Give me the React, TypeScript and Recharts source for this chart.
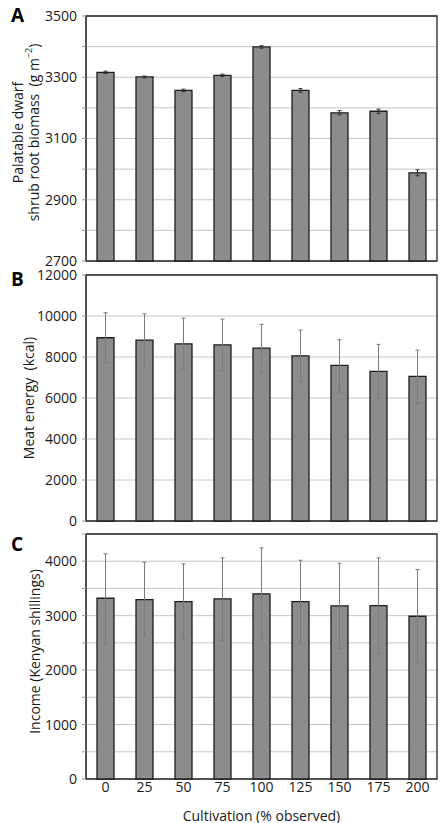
import React from "react";
import {
  BarChart, Bar, XAxis, YAxis, CartesianGrid, ErrorBar, ReferenceArea,
} from "recharts";

const CATEGORIES = ["0", "25", "50", "75", "100", "125", "150", "175", "200"];
const EDGE_TICKS = [0, 1, 2, 3, 4, 5, 6, 7, 8, 9];

// panel A: palatable dwarf shrub root biomass (g m-2)
const ROOT_BIOMASS = [3316, 3301, 3257, 3306, 3399, 3257, 3184, 3189, 2988];
const ROOT_BIOMASS_ERR = [4, 3, 4, 4, 4, 6, 7, 7, 10];
const ROOT_TICKS = [2700, 2800, 2900, 3000, 3100, 3200, 3300, 3400, 3500];

// panel B: meat energy (kcal), [lower, upper]
const MEAT_ENERGY = [8938, 8825, 8645, 8596, 8435, 8059, 7590, 7297, 7053];
const MEAT_ENERGY_ERR = [
  [1202, 1221], [1284, 1285], [1221, 1255], [1270, 1255], [1207, 1157],
  [1270, 1255], [1304, 1250], [1319, 1318], [1319, 1284],
];
const MEAT_TICKS = [0, 2000, 4000, 6000, 8000, 10000, 12000];

// panel C: income (Kenyan shillings), [lower, upper]
const INCOME = [3320, 3296, 3259, 3309, 3401, 3259, 3180, 3186, 2989];
const INCOME_ERR = [
  [838, 816], [680, 686], [698, 693], [761, 753], [846, 845],
  [777, 759], [779, 783], [888, 876], [857, 858],
];
const INCOME_TICKS = [0, 500, 1000, 1500, 2000, 2500, 3000, 3500, 4000, 4500];

const FONT = "'Open Sans', 'Noto Sans', sans-serif";
const TEXT = "#1a1a1a";
const FS = 14;

const toRows = (values: number[], errs: (number | number[])[]) =>
  CATEGORIES.map((c, i) => ({ cat: c, value: values[i], err: errs[i] }));

function YLabel({ viewBox, lines, xs, shift }: any) {
  const cy = viewBox.y + viewBox.height / 2 + (shift ?? 0);
  return (
    <g>
      {lines.map((line: React.ReactNode, i: number) => (
        <text
          key={i}
          x={xs[i]}
          y={cy}
          transform={`rotate(-90 ${xs[i]} ${cy})`}
          textAnchor="middle"
          dominantBaseline="central"
          fontSize={FS}
          fontFamily={FONT}
          fill={TEXT}
        >
          {line}
        </text>
      ))}
    </g>
  );
}

type PanelProps = {
  letter: string;
  letterTop: number;
  top: number;
  height: number;
  margin: { top: number; right: number; left: number; bottom: number };
  rows: { cat: string; value: number; err: number | number[] }[];
  domain: [number, number];
  ticks: number[];
  showTick: (v: number) => boolean;
  labelLines: React.ReactNode[];
  labelXs: number[];
  labelShift?: number;
  errColor: string;
  showCategories?: boolean;
};

function Panel(p: PanelProps) {
  return (
    <div style={{ position: "absolute", left: 0, top: p.top }}>
      <BarChart width={443} height={p.height} data={p.rows} margin={p.margin} barSize={17}>
        <CartesianGrid horizontal vertical={false} stroke="#c6c6c6" />
        <XAxis
          dataKey="cat"
          hide={!p.showCategories}
          axisLine={false}
          tickLine={false}
          tickSize={0}
          tickMargin={3}
          height={44}
          tick={{ fontSize: FS, fill: TEXT, fontFamily: FONT }}
          label={(props: any) => {
            const vb = props.viewBox;
            return (
              <text
                x={vb.x + vb.width / 2}
                y={vb.y + 36}
                textAnchor="middle"
                dominantBaseline="central"
                fontSize={FS}
                fontFamily={FONT}
                fill={TEXT}
              >
                Cultivation (% observed)
              </text>
            );
          }}
        />
        <XAxis
          xAxisId="edge"
          type="number"
          domain={[0, 9]}
          ticks={EDGE_TICKS}
          interval={0}
          height={0}
          tickSize={4}
          tickFormatter={() => ""}
          axisLine={{ stroke: "#444", strokeWidth: 1.3 }}
          tickLine={{ stroke: "#999" }}
        />
        <YAxis
          domain={p.domain}
          ticks={p.ticks}
          interval={0}
          width={86}
          tickSize={4}
          tickMargin={5}
          axisLine={{ stroke: "#444", strokeWidth: 1.3 }}
          tickLine={{ stroke: "#999" }}
          tickFormatter={(v: number) => (p.showTick(v) ? String(v) : "")}
          tick={{ fontSize: FS, fill: TEXT, fontFamily: FONT }}
          label={(props: any) => (
            <YLabel viewBox={props.viewBox} lines={p.labelLines} xs={p.labelXs} shift={p.labelShift} />
          )}
        />
        <Bar dataKey="value" fill="#8c8c8c" stroke="#1e1e1e" strokeWidth={1.3} isAnimationActive={false}>
          <ErrorBar dataKey="err" width={2} stroke={p.errColor} strokeWidth={1} />
        </Bar>
        <ReferenceArea y1={p.domain[0]} y2={p.domain[1]} fill="none" stroke="#222" strokeWidth={1.3} fillOpacity={0} />
      </BarChart>
      <div
        style={{
          position: "absolute",
          left: 11,
          top: p.letterTop,
          fontFamily: FONT,
          fontWeight: 700,
          fontSize: 19,
          color: "#000",
          lineHeight: "20px",
        }}
      >
        {p.letter}
      </div>
    </div>
  );
}

export default function App() {
  return (
    <div style={{ position: "absolute", left: 0, top: 0, width: 443, height: 823, background: "#fff" }}>
      <Panel
        letter="A"
        letterTop={5}
        top={0}
        height={275}
        margin={{ top: 16, right: 6, left: 0, bottom: 14 }}
        rows={toRows(ROOT_BIOMASS, ROOT_BIOMASS_ERR)}
        domain={[2700, 3500]}
        ticks={ROOT_TICKS}
        showTick={(v) => (v - 2700) % 200 === 0}
        labelLines={[
          "Palatable dwarf",
          <>
            shrub root biomass{"\u00a0\u00a0"}(g m
            <tspan dy={-5} fontSize={9}>−2</tspan>
            <tspan dy={5}>)</tspan>
          </>,
        ]}
        labelXs={[17, 33]}
        labelShift={-6}
        errColor="#333"
      />
      <Panel
        letter="B"
        letterTop={7}
        top={262}
        height={275}
        margin={{ top: 13, right: 6, left: 0, bottom: 16 }}
        rows={toRows(MEAT_ENERGY, MEAT_ENERGY_ERR)}
        domain={[0, 12000]}
        ticks={MEAT_TICKS}
        showTick={() => true}
        labelLines={["Meat energy\u00a0\u00a0(kcal)"]}
        labelXs={[28]}
        errColor="#7a7a7a"
      />
      <Panel
        letter="C"
        letterTop={4}
        top={530}
        height={293}
        margin={{ top: 4, right: 6, left: 0, bottom: 0 }}
        rows={toRows(INCOME, INCOME_ERR)}
        domain={[0, 4500]}
        ticks={INCOME_TICKS}
        showTick={(v) => v % 1000 === 0}
        labelLines={["Income (Kenyan shillings)"]}
        labelXs={[34]}
        labelShift={-5}
        errColor="#7a7a7a"
        showCategories
      />
    </div>
  );
}
